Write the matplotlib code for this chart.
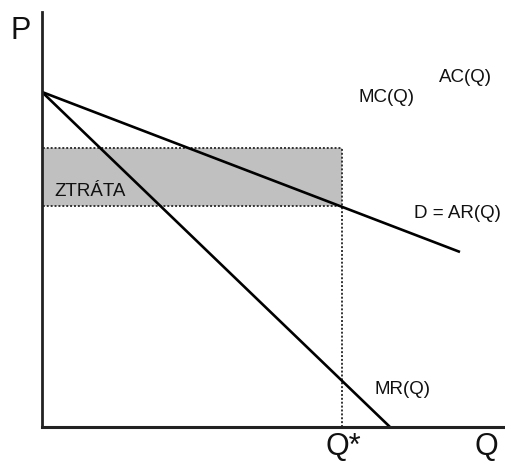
import matplotlib
matplotlib.use("Agg")
import matplotlib.pyplot as plt

# Data (in axis units; origin at axes corner)
d_q = [0, 418]          # demand D = AR(Q)
d_p = [335, 175]
mr_q = [0, 348]         # marginal revenue MR(Q)
mr_p = [335, 0]
q_star = 300
p_high = 279            # average cost at Q*
p_low = 221             # price at Q*

W, H = 505, 462
fig = plt.figure(figsize=(W/100, H/100), dpi=100)
x0, y0 = 42, 427
x1, y1 = 505, 12
ax = fig.add_axes([x0/W, (H-y0)/H, (x1-x0)/W, (y0-y1)/H])
ax.set_xlim(0, x1-x0)
ax.set_ylim(0, y0-y1)
ax.axis('off')
fam = ['Liberation Sans', 'DejaVu Sans']

# shaded loss area
ax.fill_between([0, q_star], p_low, p_high, color='#c0c0c0', lw=0, zorder=1)
# dotted guides
dot = dict(ls=(0, (1, 1)), color='#333333', lw=1.4, zorder=2)
ax.plot([-3, q_star], [p_high, p_high], **dot)
ax.plot([-3, q_star], [p_low, p_low], **dot)
ax.plot([q_star, q_star], [0, p_high], **dot)

# curves
ax.plot(d_q, d_p, color='black', lw=1.9, zorder=3, solid_capstyle='butt')
ax.plot(mr_q, mr_p, color='black', lw=1.9, zorder=3, solid_capstyle='butt')

# axes lines
ax.plot([0, 0], [0, y0-y1], color='#222222', lw=2, zorder=4, clip_on=False)
ax.plot([0, x1-x0], [0, 0], color='#222222', lw=2.2, zorder=4, clip_on=False)

def px(x, y):
    return x - x0, y0 - y

kw = dict(family=fam, color='#111111', ha='center', va='center')
ax.text(*px(21, 31), 'P', fontsize=22, clip_on=False, **kw)
ax.text(*px(486, 447), 'Q', fontsize=22, clip_on=False, **kw)
ax.text(*px(343, 447), 'Q*', fontsize=22, clip_on=False, **kw)
ax.text(*px(386, 97), 'MC(Q)', fontsize=13.5, **kw)
ax.text(*px(465, 77), 'AC(Q)', fontsize=13.5, **kw)
ax.text(*px(457, 214), 'D = AR(Q)', fontsize=13.5, **kw)
ax.text(*px(402, 390), 'MR(Q)', fontsize=13.5, **kw)
ax.text(*px(90, 192), 'ZTRÁTA', fontsize=13.5, **kw)

fig.savefig('out.png', dpi=100)
